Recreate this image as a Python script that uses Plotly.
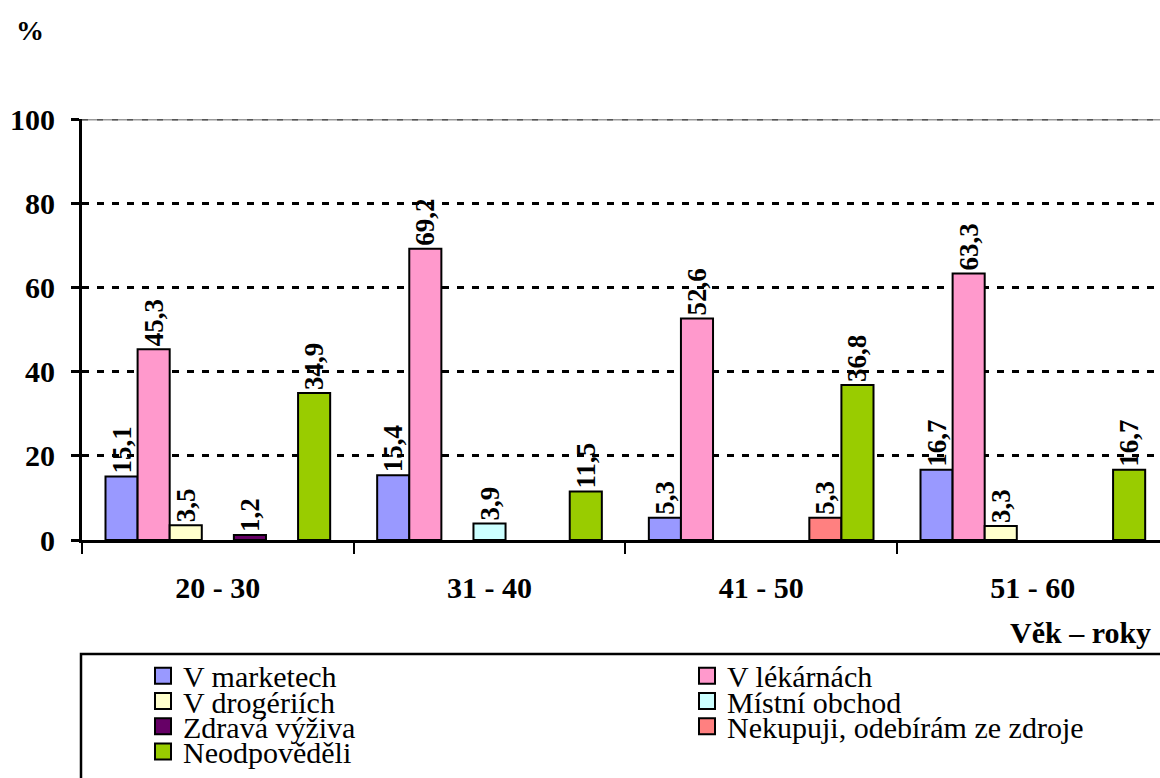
import plotly.graph_objects as go

categories = ["20 - 30", "31 - 40", "41 - 50", "51 - 60"]
series_names = ["V marketech", "V lékárnách", "V drogériích", "Místní obchod",
                "Zdravá výživa", "Nekupuji, odebírám ze zdroje", "Neodpověděli"]
v_marketech = [15.1, 15.4, 5.3, 16.7]
v_lekarnach = [45.3, 69.2, 52.6, 63.3]
v_drogeriich = [3.5, None, None, 3.3]
mistni_obchod = [None, 3.9, None, None]
zdrava_vyziva = [1.2, None, None, None]
nekupuji = [None, None, 5.3, None]
neodpovedeli = [34.9, 11.5, 36.8, 16.7]
y_ticks = [0, 20, 40, 60, 80, 100]
y_title = "%"
x_title = "Věk – roky"

series_values = [v_marketech, v_lekarnach, v_drogeriich, mistni_obchod,
                 zdrava_vyziva, nekupuji, neodpovedeli]
colors = ["#9999FF", "#FF99CC", "#FFFFCC", "#CCFFFF", "#660066", "#FF8080", "#99CC00"]

W, H = 1160, 778
ML, MR, MT, MB = 82, 0, 119, 234
PW = W - ML - MR
PH = H - MT - MB

def px_x(x):
    return (x - ML) / PW

def px_y(y):
    return (H - MB - y) / PH

SERIF = "Liberation Serif"

fig = go.Figure()
legend_ids = ["legend", "legend2", "legend3", "legend4", "legend5", "legend6", "legend7"]
for i, (name, vals, col) in enumerate(zip(series_names, series_values, colors)):
    txt = [("" if v is None else f"{v:.1f}".replace(".", ",")) for v in vals]
    fig.add_trace(go.Bar(
        x=categories, y=vals, name=name, showlegend=False,
        marker=dict(color=col, line=dict(color="black", width=2)),
        text=txt, textposition="outside", textangle=-90,
        constraintext="none", cliponaxis=False,
        textfont=dict(family=SERIF, size=27, color="black", weight="bold"),
        hoverinfo="skip",
    ))
# legend entries (square swatches, as in the original legend)
for i, (name, col) in enumerate(zip(series_names, colors)):
    fig.add_trace(go.Scatter(
        x=[None], y=[None], name=name, mode="markers",
        marker=dict(symbol="square", size=16, color=col, line=dict(color="black", width=2)),
        legend=legend_ids[i], hoverinfo="skip", showlegend=True,
    ))

# legend layout: rows and columns
row_y = [681, 706.5, 732, 757.5]
col_x = [143, 687]
legends = {}
for i, lid in enumerate(legend_ids):
    r, c = divmod(i, 2)
    legends[lid] = dict(
        x=px_x(col_x[c]), y=px_y(row_y[r]), xanchor="left", yanchor="middle",
        bgcolor="rgba(0,0,0,0)", borderwidth=0,
        font=dict(family=SERIF, size=30, color="black"),
        orientation="h", itemsizing="trace",
    )

fig.update_layout(
    width=W, height=H,
    margin=dict(l=ML, r=MR, t=MT, b=MB, pad=0),
    paper_bgcolor="white", plot_bgcolor="white",
    barmode="group", bargap=0.173, bargroupgap=0,
    showlegend=True,
    **legends,
    xaxis=dict(
        type="category", range=[-0.5, -0.5 + PW / 271.67],
        showline=True, linecolor="black", linewidth=3,
        ticks="outside", tickson="boundaries", ticklen=11, tickwidth=2, tickcolor="black",
        tickfont=dict(family=SERIF, size=30, color="black", weight="bold"),
        ticklabelstandoff=19,
        showgrid=False, zeroline=False, fixedrange=True,
    ),
    yaxis=dict(
        range=[0, 100], tickvals=y_ticks,
        showline=True, linecolor="black", linewidth=3,
        ticks="outside", ticklen=8, tickwidth=3, tickcolor="black",
        tickfont=dict(family=SERIF, size=30, color="black", weight="bold"),
        ticklabelstandoff=10,
        showgrid=True, gridcolor="black", gridwidth=3, griddash="7px,8px",
        zeroline=False, fixedrange=True,
    ),
    shapes=[
        dict(type="line", xref="paper", yref="y", x0=0, x1=1, y0=100, y1=100,
             line=dict(color="#9A9A9A", width=3), layer="above"),
        dict(type="line", xref="paper", yref="y", x0=0, x1=1, y0=100, y1=100,
             line=dict(color="#555555", width=3, dash="6px,9px"), layer="above"),
        dict(type="rect", xref="paper", yref="paper",
             x0=px_x(81), x1=px_x(1175), y0=px_y(659), y1=px_y(800),
             line=dict(color="black", width=2.5), fillcolor="rgba(0,0,0,0)", layer="above"),
    ],
    annotations=[
        dict(text=y_title, xref="paper", yref="paper", x=px_x(30), y=px_y(30),
             xanchor="center", yanchor="middle", showarrow=False,
             font=dict(family=SERIF, size=28, color="black", weight="bold")),
        dict(text=x_title, xref="paper", yref="paper", x=px_x(1153), y=px_y(637),
             xanchor="right", yanchor="middle", showarrow=False,
             font=dict(family=SERIF, size=30, color="black", weight="bold")),
    ],
)

fig.write_html("out.html", config={"displayModeBar": False})
